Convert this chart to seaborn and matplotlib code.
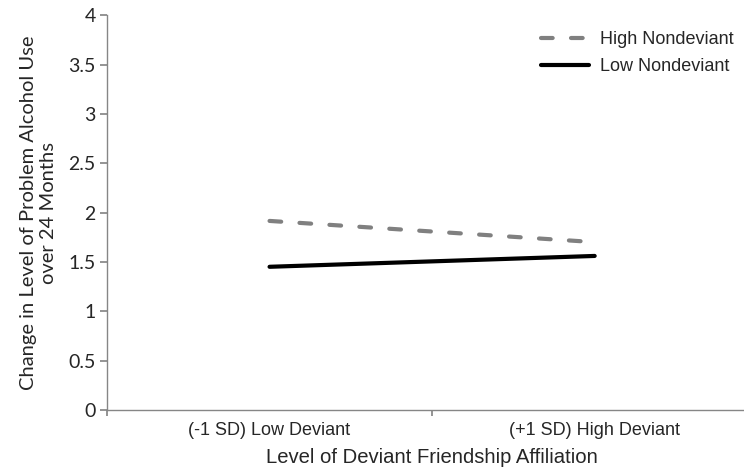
import matplotlib
matplotlib.use("Agg")
import matplotlib.pyplot as plt
import seaborn as sns
import pandas as pd

categories = ["(-1 SD) Low Deviant", "(+1 SD) High Deviant"]
high_nondeviant = [1.915, 1.70]
low_nondeviant = [1.45, 1.56]
y_ticks = [0, 0.5, 1, 1.5, 2, 2.5, 3, 3.5, 4]
y_tick_labels = ["0", "0.5", "1", "1.5", "2", "2.5", "3", "3.5", "4"]

sns.set_theme(style="white")
plt.rcParams['font.family'] = ['Liberation Sans', 'DejaVu Sans']

df = pd.DataFrame({
    "x": [0, 1, 0, 1],
    "y": high_nondeviant + low_nondeviant,
    "group": ["High Nondeviant"] * 2 + ["Low Nondeviant"] * 2,
})

fig = plt.figure(figsize=(7.44, 4.76), dpi=100)
ax = fig.add_axes([0.1438, 0.139, 0.874, 0.829])

sns.lineplot(data=df[df.group == "High Nondeviant"], x="x", y="y", ax=ax,
             color="#808080", linewidth=3.0, label="High Nondeviant",
             dashes=False, linestyle=(0, (2.8, 4.4)), solid_capstyle="round",
             dash_capstyle="round")
sns.lineplot(data=df[df.group == "Low Nondeviant"], x="x", y="y", ax=ax,
             color="black", linewidth=3.0, label="Low Nondeviant",
             solid_capstyle="round")

ax.set_xlim(-0.5, 1.5)
ax.set_ylim(0, 4)
ax.set_yticks(y_ticks)
ax.set_yticklabels(y_tick_labels, fontfamily="Lato", fontsize=14)

ax.set_xticks([-0.5, 0.5, 1.5])
ax.set_xticklabels([])
ax.set_xticks([0, 1], minor=True)
ax.set_xticklabels(categories, minor=True, fontsize=13)
ax.tick_params(axis="x", which="minor", length=0, pad=9)
ax.tick_params(axis="x", which="major", length=4, color="#868686", direction="out", bottom=True)
ax.tick_params(axis="y", length=5, color="#868686", direction="out", left=True, pad=3)

for s in ["top", "right"]:
    ax.spines[s].set_visible(False)
for s in ["left", "bottom"]:
    ax.spines[s].set_color("#868686")
    ax.spines[s].set_linewidth(1)

ax.set_xlabel("Level of Deviant Friendship Affiliation", fontsize=14.6, labelpad=6)
ax.set_ylabel("Change in Level of Problem Alcohol Use\nover 24 Months",
              fontfamily="Lato", fontsize=14.5, labelpad=8, linespacing=1.25)

leg = ax.legend(loc="upper left", bbox_to_anchor=(528 / 744, 0.961),
                bbox_transform=fig.transFigure, frameon=False,
                fontsize=13, handlelength=2.7, handletextpad=0.6,
                labelspacing=0.55, borderaxespad=0.3)
fig.savefig("out.png", dpi=100)
